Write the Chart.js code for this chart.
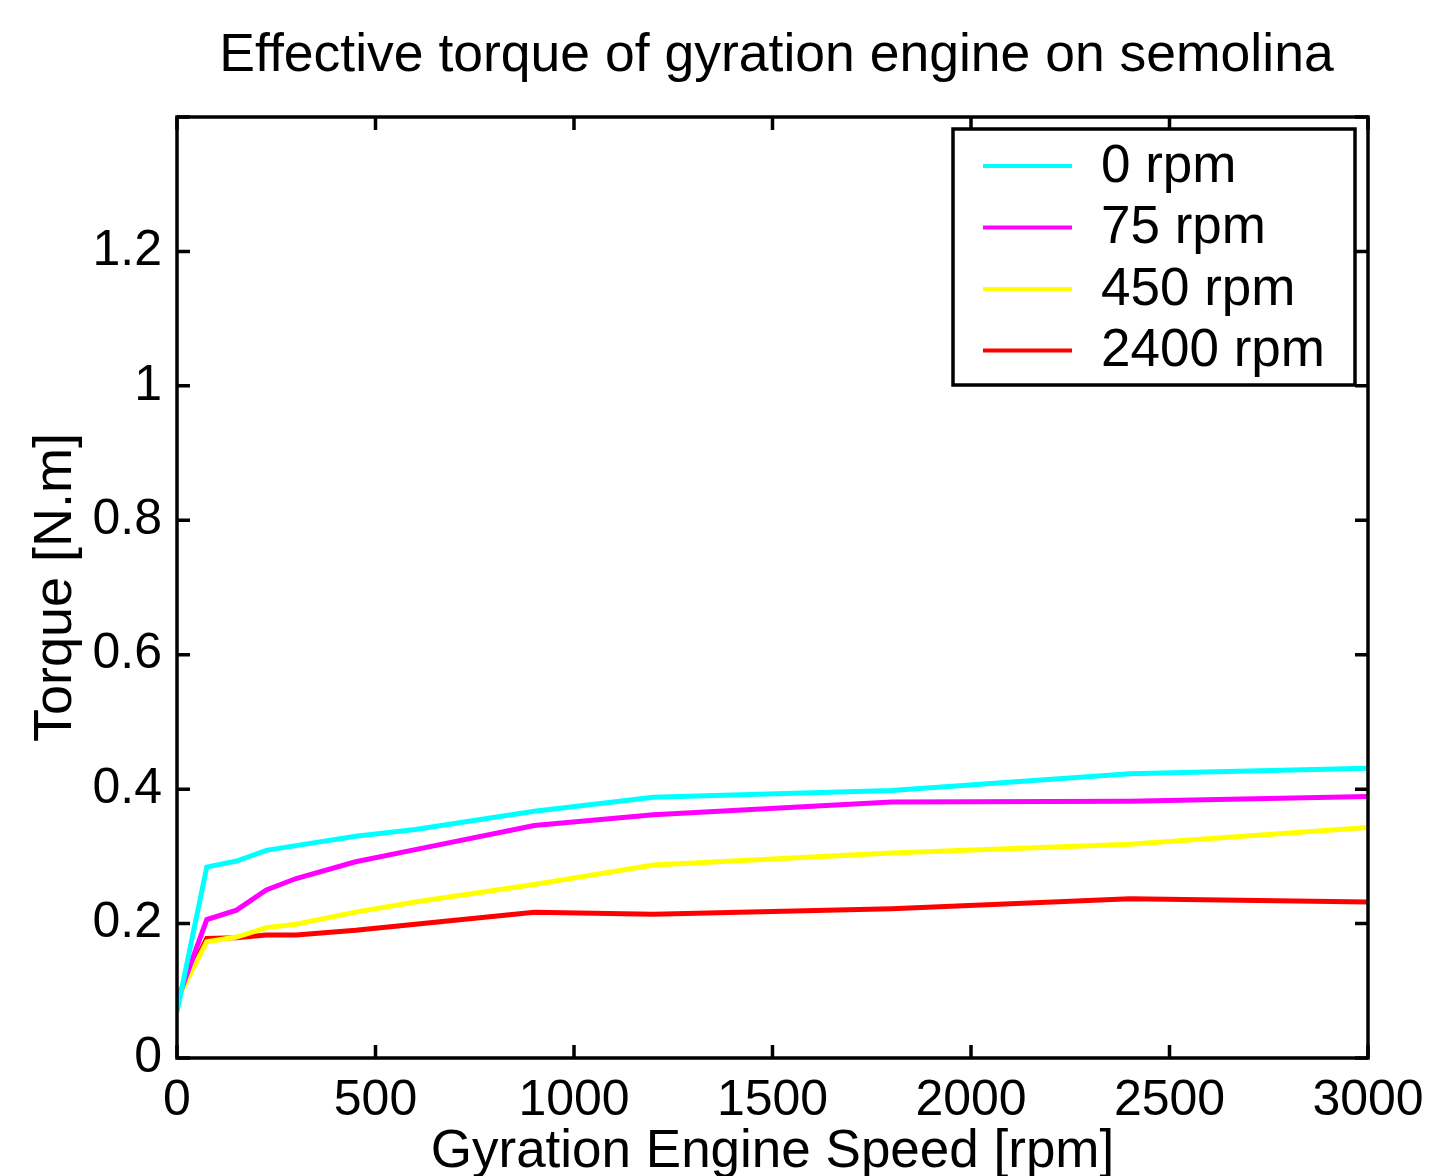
<!DOCTYPE html>
<html lang="en">
<head>
<meta charset="UTF-8">
<title>Effective torque of gyration engine on semolina</title>
<script src="https://cdn.jsdelivr.net/npm/chart.js"></script>
<style>
  body { margin: 0; background: #fff; }
</style>
</head>
<body>

<canvas id="torque-chart" width="1433" height="1176"></canvas>

<script>
// datos
var speeds = [0, 75, 150, 225, 300, 450, 600, 900, 1200, 1800, 2400, 3000];
var torque0 = [0.069, 0.284, 0.293, 0.309, 0.316, 0.330, 0.340, 0.367, 0.388, 0.398, 0.423, 0.431];
var torque75 = [0.084, 0.206, 0.220, 0.250, 0.267, 0.292, 0.310, 0.346, 0.362, 0.381, 0.382, 0.389];
var torque450 = [0.086, 0.173, 0.180, 0.194, 0.199, 0.217, 0.232, 0.258, 0.287, 0.305, 0.318, 0.343];
var torque2400 = [0.089, 0.178, 0.179, 0.183, 0.183, 0.190, 0.199, 0.217, 0.214, 0.222, 0.237, 0.232];
var seriesLabels = ['0 rpm', '75 rpm', '450 rpm', '2400 rpm'];
var seriesColors = ['#00ffff', '#ff00ff', '#ffff00', '#ff0000'];
var chartTitle = 'Effective torque of gyration engine on semolina';

function toPoints(values) {
    return speeds.map(function(s, i) { return { x: s, y: values[i] }; });
}

var FONT = 'Liberation Sans, Arial, Helvetica, sans-serif';

// titulo, marco con marcas hacia adentro y leyenda
var framePlugin = {
    id: 'frame',
    afterDatasetsDraw: function(chart) {
        var ctx = chart.ctx;
        var a = chart.chartArea;
        var xs = chart.scales.x, ys = chart.scales.y;
        var len = 13;
        ctx.save();

        ctx.fillStyle = '#000';
        ctx.font = '53.5px ' + FONT;
        ctx.textAlign = 'center';
        ctx.textBaseline = 'alphabetic';
        ctx.fillText(chartTitle, (a.left + a.right) / 2 + 4, 71);

        ctx.strokeStyle = '#000';
        ctx.lineWidth = 3.5;
        ctx.beginPath();
        xs.ticks.forEach(function(t) {
            var px = xs.getPixelForValue(t.value);
            ctx.moveTo(px, a.bottom); ctx.lineTo(px, a.bottom - len);
            ctx.moveTo(px, a.top); ctx.lineTo(px, a.top + len);
        });
        ys.ticks.forEach(function(t) {
            var py = ys.getPixelForValue(t.value);
            ctx.moveTo(a.left, py); ctx.lineTo(a.left + len, py);
            ctx.moveTo(a.right, py); ctx.lineTo(a.right - len, py);
        });
        ctx.stroke();
        ctx.strokeRect(a.left, a.top, a.right - a.left, a.bottom - a.top);

        var bx = 953, by = 129, bw = 402, bh = 256;
        ctx.fillStyle = '#fff';
        ctx.fillRect(bx, by, bw, bh);
        ctx.strokeRect(bx, by, bw, bh);
        ctx.font = '53px ' + FONT;
        ctx.textAlign = 'left';
        ctx.textBaseline = 'middle';
        chart.data.datasets.forEach(function(ds, i) {
            var y = 166 + i * 61.5;
            ctx.strokeStyle = ds.borderColor;
            ctx.lineWidth = 4;
            ctx.beginPath();
            ctx.moveTo(983, y); ctx.lineTo(1072, y);
            ctx.stroke();
            ctx.fillStyle = '#000';
            ctx.fillText(ds.label, 1101, y + 1);
        });
        ctx.restore();
    }
};

var ctx = document.getElementById('torque-chart').getContext('2d');
var chart = new Chart(ctx, {
    type: 'scatter',
    data: {
        datasets: [torque0, torque75, torque450, torque2400].map(function(vals, i) {
            return {
                label: seriesLabels[i],
                data: toPoints(vals),
                showLine: true,
                borderColor: seriesColors[i],
                backgroundColor: seriesColors[i],
                borderWidth: 5,
                pointRadius: 0,
                tension: 0
            };
        })
    },
    options: {
        responsive: false,
        animation: false,
        layout: { padding: { left: 0, right: 65, top: 117, bottom: 0 } },
        plugins: {
            legend: { display: false },
            tooltip: { enabled: false },
            title: { display: false }
        },
        scales: {
            x: {
                type: 'linear',
                min: 0,
                max: 3000,
                ticks: {
                    stepSize: 500,
                    color: '#000',
                    font: { family: FONT, size: 50 },
                    padding: 5,
                    maxRotation: 0,
                    callback: function(v) { return String(v); }
                },
                grid: { display: false },
                border: { display: false },
                title: {
                    display: true,
                    text: 'Gyration Engine Speed [rpm]',
                    color: '#000',
                    font: { family: FONT, size: 53 },
                    padding: { top: 0, bottom: -8 }
                },
                afterFit: function(scale) { scale.height = 118; }
            },
            y: {
                min: 0,
                max: 1.4,
                ticks: {
                    stepSize: 0.2,
                    color: '#000',
                    font: { family: FONT, size: 50 },
                    padding: 7,
                    callback: function(v) {
                        if (Math.abs(v - 1.4) < 1e-9) return '';
                        return String(+v.toFixed(1));
                    }
                },
                grid: { display: false },
                border: { display: false },
                title: {
                    display: true,
                    text: 'Torque [N.m]',
                    color: '#000',
                    font: { family: FONT, size: 54 },
                    padding: { top: 24, bottom: 0 }
                },
                afterFit: function(scale) { scale.width = 177; }
            }
        }
    },
    plugins: [framePlugin]
});
</script>

</body>
</html>
